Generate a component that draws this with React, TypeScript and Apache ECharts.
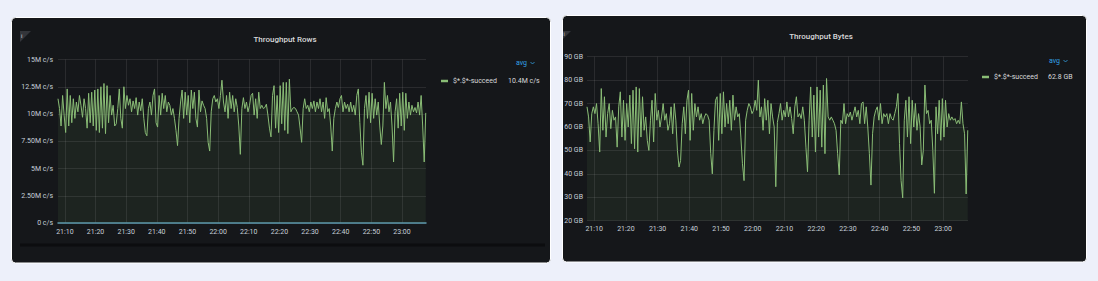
import React, { useEffect, useRef } from "react";
import * as echarts from "echarts";

// ---- data ----
const SERIES_NAME = "$*.$*-succeed";
const TITLES = ["Throughput Rows", "Throughput Bytes"];
const ROWS_AVG = "10.4M c/s";
const BYTES_AVG = "62.8 GB";

const START = new Date(2024, 0, 1, 21, 7, 45).getTime();
const END = new Date(2024, 0, 1, 23, 7, 50).getTime();
const STEP_MS = 30000;

const X_TICKS = ["21:10", "21:20", "21:30", "21:40", "21:50", "22:00", "22:10", "22:20", "22:30", "22:40", "22:50", "23:00"];
const ROWS_TICKS = ["0 c/s", "2.50M c/s", "5M c/s", "7.50M c/s", "10M c/s", "12.5M c/s", "15M c/s"];

// Throughput rows, millions of rows per second (one sample every 30 s)
const ROWS_M = [
  11.4, 10.5, 8.9, 11.7, 9.9, 8.3, 12.3, 8.9, 11.7, 9.2, 11.4, 9.6, 11.1, 10.2, 11.7, 10.8, 9.7, 11.4, 10.5, 8.7,
  11.9, 9.2, 12.0, 8.9, 12.2, 8.5, 12.3, 8.3, 12.5, 8.7, 12.8, 8.2, 12.6, 9.2, 11.7, 9.9, 10.8, 8.9, 9.1, 10.5,
  12.3, 9.6, 8.7, 12.5, 10.5, 11.7, 10.8, 11.4, 10.2, 11.2, 10.5, 11.5, 9.9, 11.1, 10.3, 11.4, 9.6, 8.3, 8.0, 10.5,
  11.1, 9.9, 11.7, 12.3, 9.2, 8.8, 11.7, 9.9, 11.9, 10.5, 11.7, 10.2, 11.1, 10.8, 9.9, 10.5, 9.6, 8.5, 7.1, 9.6,
  11.1, 12.2, 9.6, 12.0, 9.9, 11.7, 9.2, 12.2, 10.5, 12.0, 9.6, 8.8, 12.2, 10.2, 11.2, 10.8, 10.5, 9.6, 7.4, 6.6,
  10.2, 11.4, 11.7, 11.1, 11.4, 10.5, 11.7, 13.1, 11.1, 10.2, 11.7, 9.6, 12.0, 10.5, 11.7, 10.2, 11.4, 10.6, 8.9, 6.3,
  10.5, 11.5, 10.5, 11.1, 10.2, 10.8, 11.7, 11.9, 9.9, 11.4, 9.6, 12.0, 10.5, 10.8, 10.5, 10.6, 10.9, 9.9, 8.7, 7.9,
  11.7, 12.6, 8.7, 11.7, 8.3, 12.6, 9.1, 12.9, 8.5, 12.9, 8.2, 13.2, 10.2, 10.5, 10.6, 10.5, 10.2, 9.9, 8.7, 7.4,
  10.5, 11.4, 10.5, 10.8, 10.2, 11.1, 10.5, 11.2, 10.2, 11.1, 10.5, 11.4, 10.2, 11.1, 9.6, 11.5, 10.2, 10.5, 8.9, 6.6,
  9.6, 10.5, 11.1, 10.6, 11.4, 11.7, 10.2, 11.1, 10.5, 10.9, 10.2, 11.1, 10.2, 10.8, 9.9, 11.7, 12.3, 9.2, 6.5, 5.3,
  10.5, 11.7, 9.6, 12.0, 9.2, 11.9, 9.6, 11.4, 9.9, 11.1, 8.9, 7.2, 8.9, 12.9, 10.5, 11.7, 10.2, 11.1, 8.9, 5.6,
  10.2, 11.4, 8.7, 11.9, 8.9, 12.0, 8.5, 11.9, 9.6, 11.1, 9.9, 10.8, 10.2, 10.6, 10.1, 11.1, 9.9, 11.7, 8.9, 5.6, 10.1,
];

// Throughput bytes, GB (one sample every 30 s)
const BYTES_GB = [
  68.6, 64.3, 53.6, 65.7, 68.6, 65.7, 70.0, 61.4, 49.3, 76.4, 58.6, 72.9, 55.7, 65.7, 70.0, 59.3, 67.1, 62.9, 64.3, 51.4,
  68.6, 75.0, 55.7, 71.4, 54.3, 70.0, 60.0, 73.6, 52.9, 75.7, 50.7, 77.1, 49.3, 76.4, 55.7, 72.9, 58.6, 64.3, 54.3, 50.0,
  62.9, 71.4, 53.6, 74.3, 62.9, 67.1, 60.0, 64.3, 70.0, 62.9, 65.7, 58.6, 61.4, 68.6, 57.1, 70.0, 62.9, 50.0, 42.9, 45.7,
  61.4, 68.6, 57.1, 71.4, 75.7, 54.3, 74.3, 58.6, 70.0, 64.3, 68.6, 62.9, 65.7, 61.4, 64.3, 65.7, 65.0, 62.9, 48.6, 40.0,
  58.6, 71.4, 72.9, 54.3, 74.3, 57.1, 75.0, 60.0, 70.0, 61.4, 71.4, 58.6, 73.6, 62.9, 68.6, 64.3, 65.7, 55.7, 44.3, 37.1,
  62.9, 67.1, 70.0, 68.6, 65.7, 67.1, 71.4, 67.1, 80.0, 64.3, 68.6, 58.6, 72.1, 62.9, 71.4, 57.1, 70.0, 64.3, 60.0, 34.5,
  62.0, 65.7, 70.0, 62.9, 67.1, 64.3, 70.7, 64.3, 68.6, 63.6, 57.1, 68.6, 72.9, 64.3, 65.7, 63.6, 68.6, 62.9, 51.4, 40.9,
  62.9, 77.1, 55.7, 73.6, 49.3, 77.1, 55.7, 75.7, 51.4, 77.9, 48.6, 80.7, 64.3, 62.9, 64.3, 62.9, 61.4, 58.6, 48.6, 39.5,
  62.9, 61.4, 70.0, 61.4, 65.7, 64.3, 66.4, 62.9, 65.7, 68.6, 64.3, 67.1, 61.4, 70.0, 70.7, 61.4, 68.6, 60.0, 48.6, 35.2,
  57.1, 64.3, 67.1, 68.6, 62.9, 70.0, 61.4, 65.7, 64.3, 65.7, 61.4, 65.7, 63.6, 62.9, 65.7, 68.6, 74.3, 52.9, 37.1, 29.7,
  62.9, 71.4, 55.7, 72.9, 52.9, 71.4, 60.0, 70.0, 58.6, 65.7, 60.0, 43.8, 50.0, 77.9, 65.7, 67.1, 61.4, 62.9, 50.0, 31.7,
  68.6, 57.1, 71.4, 54.3, 72.1, 55.7, 71.4, 60.0, 65.7, 62.9, 64.3, 62.9, 63.6, 61.4, 62.9, 61.4, 70.7, 61.4, 57.1, 31.4, 58.6,
];

// ---- styling ----
const PAGE_BG = "#edf0fa";
const PANEL_BG = "#15171a";
const GRID_COLOR = "rgba(255,255,255,0.09)";
const TEXT = "#c7d0d9";
const TITLE_COLOR = "#d8d9da";
const LINE = "#8abd76";
const FILL = "rgba(126,178,109,0.12)";
const BLUE = "#33a2e5";
const FONT = "Roboto, 'Noto Sans', sans-serif";

function tickTime(label: string): number {
  const [h, m] = label.split(":").map(Number);
  return new Date(2024, 0, 1, h, m, 0).getTime();
}
const X_TICK_VALUES = X_TICKS.map(tickTime);

function toPairs(vals: number[]) {
  return vals.map((v, i) => [START + i * STEP_MS, v]);
}

function fmtTime(v: number): string {
  const d = new Date(v);
  const p = (n: number) => (n < 10 ? "0" + n : "" + n);
  return p(d.getHours()) + ":" + p(d.getMinutes());
}

function xAxis(gridIndex: number, showLine: boolean) {
  return {
    type: "value",
    gridIndex,
    min: START,
    max: END,
    axisLine: { show: showLine, onZero: false, lineStyle: { color: "#5b98ae", width: 1.5 } },
    axisTick: { show: false, customValues: X_TICK_VALUES },
    axisLabel: {
      customValues: X_TICK_VALUES,
      formatter: fmtTime,
      color: TEXT,
      fontSize: 7,
      fontFamily: FONT,
      margin: 5,
    },
    splitLine: { show: true, lineStyle: { color: GRID_COLOR, width: 1 } },
  };
}

const centerText = (x: number, y: number, text: string, size: number, weight: number | string) => ({
  type: "text",
  z: 6,
  x,
  y,
  style: {
    text,
    fill: TITLE_COLOR,
    fontSize: size,
    fontWeight: weight,
    fontFamily: FONT,
    align: "center",
    verticalAlign: "middle",
    textAlign: "center",
    textVerticalAlign: "middle",
  },
});

const leftText = (x: number, y: number, text: string, size: number, color: string) => ({
  type: "text",
  z: 6,
  x,
  y,
  style: {
    text,
    fill: color,
    fontSize: size,
    fontFamily: FONT,
    align: "left",
    verticalAlign: "middle",
    textAlign: "left",
    textVerticalAlign: "middle",
  },
});

export default function App() {
  const ref = useRef<HTMLDivElement>(null);

  useEffect(() => {
    if (!ref.current) return;
    const chart = echarts.init(ref.current, null, { renderer: "svg" });

    const legendText = (avg: string, w: number) => ({
      formatter: (name: string) => `{n|${name}}{v|${avg}}`,
      textStyle: {
        color: TITLE_COLOR,
        fontSize: 7,
        fontFamily: FONT,
        rich: {
          n: { width: w, fontSize: 7, fontFamily: FONT, color: TITLE_COLOR },
          v: { fontSize: 7, fontFamily: FONT, color: TITLE_COLOR },
        },
      },
    });

    chart.setOption({
      animation: false,
      backgroundColor: PAGE_BG,
      grid: [
        { left: 58, top: 59.5, width: 368, height: 163.5 },
        { left: 587, top: 56.7, width: 381, height: 164 },
      ],
      xAxis: [xAxis(0, true), xAxis(1, false)],
      yAxis: [
        {
          type: "value",
          gridIndex: 0,
          min: 0,
          max: 15,
          interval: 2.5,
          axisLine: { show: false },
          axisTick: { show: false },
          axisLabel: {
            formatter: (v: number) => ROWS_TICKS[Math.round(v / 2.5)],
            color: TEXT,
            fontSize: 7,
            fontFamily: FONT,
            margin: 5,
          },
          splitLine: { lineStyle: { color: GRID_COLOR } },
        },
        {
          type: "value",
          gridIndex: 1,
          min: 20,
          max: 90,
          interval: 10,
          axisLine: { show: false },
          axisTick: { show: false },
          axisLabel: {
            formatter: "{value} GB",
            color: TEXT,
            fontSize: 7,
            fontFamily: FONT,
            margin: 4,
          },
          splitLine: { lineStyle: { color: GRID_COLOR } },
        },
      ],
      legend: [
        {
          left: 441,
          top: 77.5,
          padding: 0,
          icon: "rect",
          itemWidth: 7,
          itemHeight: 2.5,
          data: [SERIES_NAME],
          ...legendText(ROWS_AVG, 55),
        },
        {
          left: 982,
          top: 73.5,
          padding: 0,
          icon: "rect",
          itemWidth: 7,
          itemHeight: 2.5,
          data: [SERIES_NAME],
          ...legendText(BYTES_AVG, 54),
        },
      ],
      series: [
        {
          name: SERIES_NAME,
          type: "line",
          xAxisIndex: 0,
          yAxisIndex: 0,
          data: toPairs(ROWS_M),
          showSymbol: false,
          symbol: "none",
          itemStyle: { color: LINE },
          lineStyle: { color: LINE, width: 1 },
          areaStyle: { color: FILL, origin: "start" },
        },
        {
          name: SERIES_NAME,
          type: "line",
          xAxisIndex: 1,
          yAxisIndex: 1,
          data: toPairs(BYTES_GB),
          showSymbol: false,
          symbol: "none",
          itemStyle: { color: LINE },
          lineStyle: { color: LINE, width: 1 },
          areaStyle: { color: FILL, origin: "start" },
        },
      ],
      graphic: [
        {
          type: "rect",
          z: -10,
          silent: true,
          shape: { x: 11.5, y: 17.5, width: 539, height: 245.5, r: 4 },
          style: { fill: PANEL_BG, stroke: "#ffffff", lineWidth: 1 },
        },
        {
          type: "rect",
          z: -10,
          silent: true,
          shape: { x: 562.5, y: 15.5, width: 524, height: 246.5, r: 4 },
          style: { fill: PANEL_BG, stroke: "#ffffff", lineWidth: 1 },
        },
        {
          type: "rect",
          z: -9,
          silent: true,
          shape: { x: 20, y: 243.5, width: 525, height: 3 },
          style: { fill: "#0c0d0f" },
        },
        {
          type: "polygon",
          z: 5,
          silent: true,
          shape: { points: [[20, 31], [31, 31], [20, 42]] },
          style: { fill: "#33353a" },
        },
        leftText(21, 35, "i", 6, TITLE_COLOR),
        {
          type: "polygon",
          z: 5,
          silent: true,
          shape: { points: [[563, 31], [571, 31], [563, 39]] },
          style: { fill: "#33353a" },
        },
        leftText(563.5, 34, "i", 5, TITLE_COLOR),
        centerText(285, 39.5, TITLES[0], 8, 500),
        centerText(821, 36.7, TITLES[1], 8, 500),
        leftText(516, 63, "avg", 7, BLUE),
        {
          type: "polyline",
          z: 6,
          silent: true,
          shape: { points: [[530.5, 62], [532.5, 64], [534.5, 62]] },
          style: { stroke: BLUE, lineWidth: 0.8, fill: "none" },
        },
        leftText(1049, 61, "avg", 7, BLUE),
        {
          type: "polyline",
          z: 6,
          silent: true,
          shape: { points: [[1063.5, 60], [1065.5, 62], [1067.5, 60]] },
          style: { stroke: BLUE, lineWidth: 0.8, fill: "none" },
        },
      ],
    });

    return () => chart.dispose();
  }, []);

  return (
    <div
      ref={ref}
      style={{ position: "fixed", left: 0, top: 0, width: 1098, height: 281 }}
    />
  );
}
